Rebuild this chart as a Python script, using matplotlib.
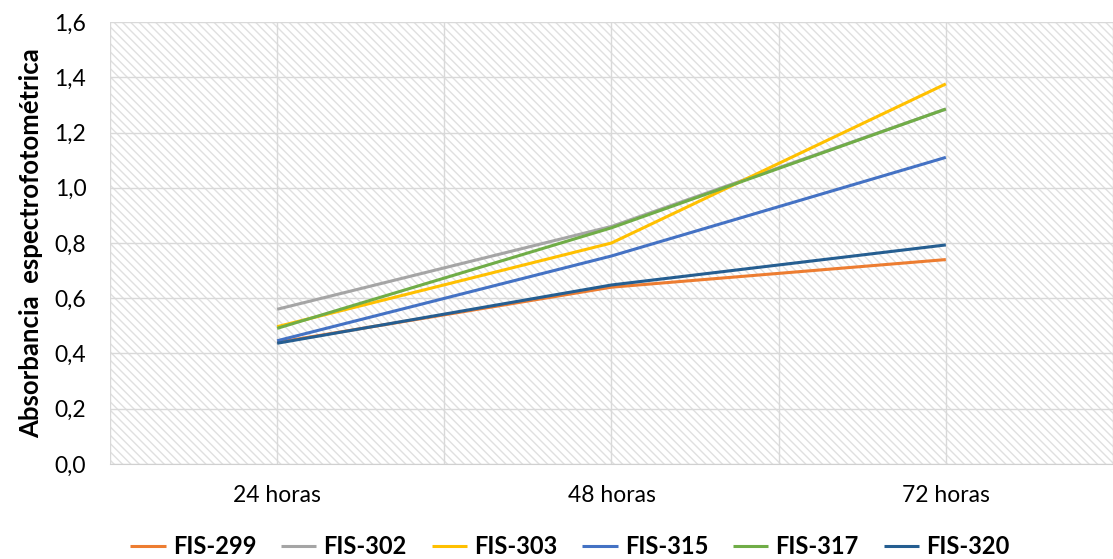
import matplotlib.pyplot as plt
from matplotlib.patches import Rectangle
from matplotlib.ticker import FuncFormatter

# datos de absorbancia por cepa
tiempos = ['24 horas', '48 horas', '72 horas']
fis_299 = [0.44, 0.64, 0.74]
fis_302 = [0.56, 0.86, 1.285]
fis_303 = [0.497, 0.80, 1.376]
fis_315 = [0.446, 0.753, 1.11]
fis_317 = [0.491, 0.855, 1.285]
fis_320 = [0.437, 0.648, 0.793]

series = [
    ('FIS-299', fis_299, '#ED7D31'),
    ('FIS-302', fis_302, '#A5A5A5'),
    ('FIS-303', fis_303, '#FFC000'),
    ('FIS-315', fis_315, '#4472C4'),
    ('FIS-317', fis_317, '#70AD47'),
    ('FIS-320', fis_320, '#255E91'),
]

plt.rcParams['font.family'] = ['Lato', 'DejaVu Sans']
plt.rcParams['hatch.linewidth'] = 1.0

fig = plt.figure(figsize=(11.13, 5.59), dpi=100)
ax = fig.add_axes([0.0988, 0.17, 0.9012, 0.7906])

# fondo rayado
ax.add_patch(Rectangle((0, 0), 1, 1, transform=ax.transAxes, facecolor='white',
                       edgecolor='#e0e0e0', hatch='\\\\\\\\', lw=0, zorder=0))

x = list(range(len(tiempos)))
for nombre, vals, color in series:
    ax.plot(x, vals, color=color, lw=2.2, label=nombre, zorder=3, solid_capstyle='butt')

ax.set_xlim(-0.5, 2.5)
ax.set_ylim(0, 1.6)
ax.set_yticks([i * 0.2 for i in range(9)])
ax.yaxis.set_major_formatter(FuncFormatter(lambda v, p: f'{v:.1f}'.replace('.', ',')))
ax.set_xticks(x)
ax.set_xticklabels(tiempos)
ax.set_xticks([-0.5, 0.5, 1.5, 2.5], minor=True)

ax.grid(True, which='both', color='#d9d9d9', lw=1, zorder=1)
ax.tick_params(axis='both', which='both', length=0, labelsize=16.5, colors='#000000')
ax.tick_params(axis='y', pad=17)
ax.tick_params(axis='x', pad=15)
for s in ['top', 'right', 'left']:
    ax.spines[s].set_visible(False)
ax.spines['bottom'].set_color('#d0d0d0')

ax.set_ylabel('Absorbancia  espectrofotométrica', fontsize=18.5, fontweight='bold', labelpad=8)

fig.legend(loc='lower center', bbox_to_anchor=(0.512, -0.037), ncol=6, frameon=False,
           prop={'weight': 'bold', 'size': 17}, handlelength=1.5, handletextpad=0.3,
           columnspacing=1.05)

fig.savefig('out.png', dpi=100)
